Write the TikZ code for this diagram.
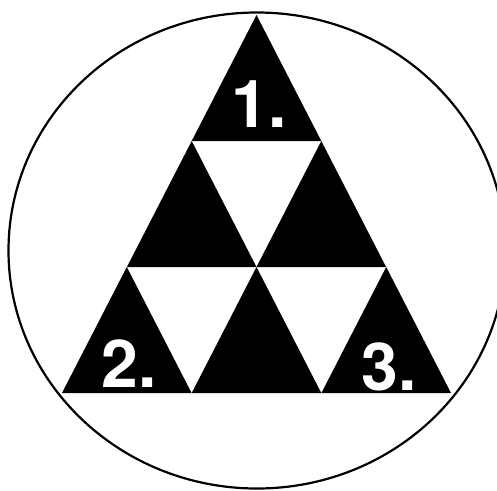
\documentclass[tikz,border=0pt]{standalone}
\usepackage{fontspec}
\setmainfont{TeX Gyre Heros}
\usepackage{tikz}
\tikzset{
  piece/.style={fill=black},
  num/.style={white,font=\fontsize{66}{66}\selectfont\bfseries,inner sep=0pt,anchor=base}
}

\begin{document}
\begin{tikzpicture}[x=1pt,y=-1pt]
  \useasboundingbox (0,0) rectangle (497,490);
  \draw[line width=2.2pt] (257,250.5) ellipse [x radius=248.5, y radius=238];
  % six black triangles, apex then base
  \foreach \ax/\ay in {256.5/15, 191.7/141, 321.3/141, 126.8/267, 256.5/267, 386.2/267}
    \fill[piece] (\ax,\ay) -- ++(-64.8,126) -- ++(129.6,0) -- cycle;
  \node[num] (one) at (259,127) {1.};
  \node[num] (two) at (129,387) {2.};
  \node[num] (three) at (389,390) {3.};
\end{tikzpicture}
\end{document}
